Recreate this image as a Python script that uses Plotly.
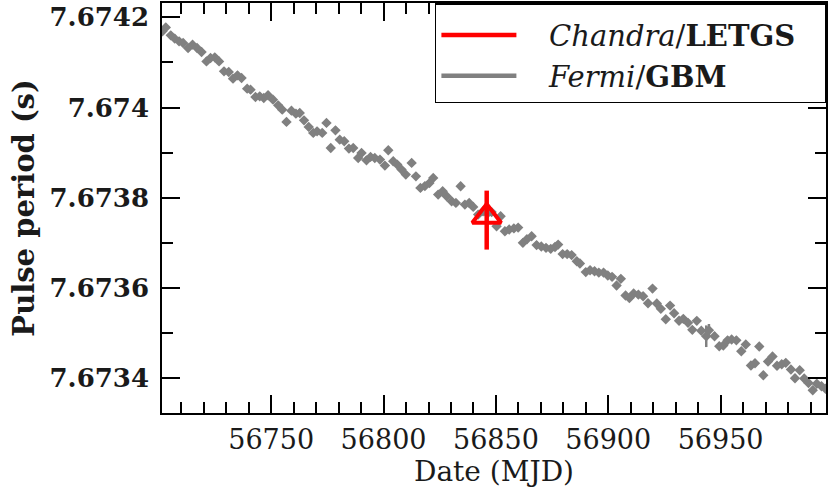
import plotly.graph_objects as go

fermi_mjd = [
    56701.6, 56703.1, 56705.3, 56707.1, 56709.0, 56710.8, 56713.0, 56715.0, 56717.0, 56719.0,
    56721.2, 56723.0, 56724.9, 56726.8, 56729.0, 56731.1, 56733.0, 56735.0, 56736.8, 56739.3,
    56740.8, 56743.0, 56744.9, 56746.7, 56748.6, 56750.8, 56753.1, 56754.9, 56756.8, 56759.0,
    56761.0, 56762.7, 56764.6, 56766.7, 56768.7, 56770.4, 56772.7, 56774.6, 56776.5, 56778.6,
    56780.5, 56782.5, 56784.6, 56786.5, 56788.7, 56790.2, 56792.4, 56794.2, 56796.1, 56798.4,
    56800.6, 56802.1, 56804.3, 56806.1, 56808.0, 56809.9, 56812.5, 56814.4, 56816.4, 56818.4,
    56820.4, 56822.1, 56824.3, 56826.3, 56828.1, 56830.3, 56832.2, 56834.3, 56836.2, 56838.1,
    56839.9, 56842.1, 56844.3, 56846.2, 56848.1, 56850.3, 56852.1, 56854.0, 56855.9, 56858.0,
    56859.9, 56862.0, 56863.8, 56865.9, 56868.1, 56870.2, 56872.3, 56874.4, 56876.3, 56877.7,
    56879.7, 56881.7, 56883.7, 56886.0, 56887.4, 56890.0, 56891.9, 56893.9, 56895.8, 56897.9,
    56899.8, 56901.7, 56903.7, 56905.6, 56907.7, 56909.4, 56911.3, 56913.4, 56915.5, 56917.7,
    56919.7, 56921.6, 56923.4, 56925.6, 56927.5, 56929.3, 56931.5, 56933.4, 56935.5, 56937.4,
    56939.4, 56941.4, 56943.6, 56944.8, 56947.3, 56949.4, 56951.2, 56953.1, 56954.9, 56957.0,
    56959.2, 56961.2, 56963.5, 56965.3, 56967.2, 56969.0, 56971.1, 56973.1, 56975.1, 56977.2,
    56979.0, 56981.3, 56983.1, 56985.2, 56987.2, 56989.1, 56991.0, 56992.8, 56994.9, 56996.7,
]
fermi_period = [
    7.6741690, 7.6741778, 7.6741601, 7.6741528, 7.6741468, 7.6741432, 7.6741321, 7.6741395, 7.6741321, 7.6741233,
    7.6741024, 7.6741100, 7.6741113, 7.6741024, 7.6740803, 7.6740789, 7.6740641, 7.6740714, 7.6740656, 7.6740419,
    7.6740397, 7.6740235, 7.6740248, 7.6740213, 7.6740271, 7.6740175, 7.6740049, 7.6739953, 7.6739681, 7.6739931,
    7.6739865, 7.6739880, 7.6739716, 7.6739570, 7.6739437, 7.6739472, 7.6739437, 7.6739659, 7.6739104, 7.6739494,
    7.6739288, 7.6739251, 7.6739089, 7.6739104, 7.6738882, 7.6738993, 7.6738829, 7.6738905, 7.6738882, 7.6738845,
    7.6738712, 7.6739051, 7.6738807, 7.6738734, 7.6738623, 7.6738512, 7.6738772, 7.6738474, 7.6738217, 7.6738257,
    7.6738324, 7.6738439, 7.6738069, 7.6738142, 7.6738031, 7.6737920, 7.6737885, 7.6738253, 7.6737847, 7.6737885,
    7.6737796, 7.6737625, 7.6737698, 7.6737647, 7.6737681, 7.6737366, 7.6737588, 7.6737255, 7.6737293, 7.6737319,
    7.6737337, 7.6736998, 7.6737078, 7.6737144, 7.6736949, 7.6736916, 7.6736887, 7.6736865, 7.6736905, 7.6736960,
    7.6736749, 7.6736749, 7.6736727, 7.6736590, 7.6736539, 7.6736350, 7.6736390, 7.6736368, 7.6736339, 7.6736339,
    7.6736273, 7.6736244, 7.6736051, 7.6736200, 7.6735829, 7.6735774, 7.6735874, 7.6735851, 7.6735814, 7.6735659,
    7.6735984, 7.6735652, 7.6735534, 7.6735304, 7.6735607, 7.6735437, 7.6735271, 7.6735313, 7.6735224, 7.6735069,
    7.6735268, 7.6735049, 7.6734927, 7.6735058, 7.6734927, 7.6734705, 7.6734721, 7.6734836, 7.6734854, 7.6734836,
    7.6734594, 7.6734743, 7.6734277, 7.6734328, 7.6734698, 7.6734060, 7.6734366, 7.6734477, 7.6734273, 7.6734306,
    7.6734337, 7.6734188, 7.6733996, 7.6734171, 7.6733989, 7.6733889, 7.6733727, 7.6733874, 7.6733816, 7.6733763,
]
# typical 1-sigma error (s); a couple of points have larger bars
fermi_err = [8e-6] * len(fermi_mjd)
fermi_err[122] = 24e-6
fermi_err[123] = 14e-6

# Chandra/LETGS measurement
chandra_mjd = [56845.9]
chandra_period = [7.6737581]
chandra_err_plus = [57.6e-6]
chandra_err_minus = [73.2e-6]

y_tickvals = [7.6734, 7.6736, 7.6738, 7.6740, 7.6742]
y_ticktext = ["7.6734", "7.6736", "7.6738", "7.674", "7.6742"]

GRAY = "#808080"
RED = "#ff0000"
SERIF = "DejaVu Serif"
INK = "#1a1a1a"
NB = "\u00a0"  # non-breaking space, used to pad the legend box

fig = go.Figure()

fig.add_trace(
    go.Scatter(
        x=fermi_mjd,
        y=fermi_period,
        mode="markers",
        marker=dict(symbol="diamond", size=8, color=GRAY),
        error_y=dict(type="data", array=fermi_err, color=GRAY, thickness=2.5, width=0),
        error_x=dict(type="constant", value=1.0, color=GRAY, thickness=2.5, width=0),
        showlegend=False,
    )
)

fig.add_trace(
    go.Scatter(
        x=chandra_mjd,
        y=chandra_period,
        mode="markers",
        marker=dict(symbol="triangle-up-open", size=25, color=RED, line=dict(width=4, color=RED)),
        error_y=dict(
            type="data", symmetric=False, array=chandra_err_plus, arrayminus=chandra_err_minus,
            color=RED, thickness=4.5, width=0,
        ),
        showlegend=False,
    )
)

# legend-only line entries
fig.add_trace(go.Scatter(x=[None], y=[None], mode="lines", line=dict(color=RED, width=4.5),
                         name=NB * 3 + "<i>Chandra</i>/<b>LETGS</b>" + NB * 2 + "\u2009",
                         legendgroup="a"))
fig.add_trace(go.Scatter(x=[None], y=[None], mode="lines", line=dict(color=GRAY, width=4.5),
                         name=NB * 3 + "<i>Fermi</i>/<b>GBM</b>", legendgroup="b"))

axis_common = dict(
    showline=True,
    linecolor="black",
    linewidth=1.5,
    mirror="ticks",
    ticks="inside",
    ticklen=18,
    tickwidth=1.5,
    tickcolor="black",
    showgrid=False,
    zeroline=False,
    automargin=False,
)

fig.update_xaxes(
    **axis_common,
    range=[56701.4, 56996.9],
    tick0=56750,
    dtick=50,
    tickformat="d",
    minor=dict(dtick=10, ticks="inside", ticklen=11, tickwidth=1.5, tickcolor="black", showgrid=False),
    tickfont=dict(family=SERIF, size=27, color=INK),
    ticklabelstandoff=2,
    title=dict(text="Date (MJD)", font=dict(family=SERIF, size=28, color=INK), standoff=4),
)

fig.update_yaxes(
    **axis_common,
    range=[7.6733224, 7.6742319],
    tickvals=y_tickvals,
    ticktext=y_ticktext,
    minor=dict(dtick=0.0001, tick0=7.6734, ticks="inside", ticklen=11, tickwidth=1.5,
               tickcolor="black", showgrid=False),
    tickfont=dict(family=SERIF, size=26, color=INK, weight="bold"),
    ticklabelstandoff=6,
    title=dict(text="<b>Pulse period (s)</b>", font=dict(family=SERIF, size=29, color=INK), standoff=6),
)

fig.update_layout(
    width=830,
    height=495,
    margin=dict(l=162, r=4, t=3, b=82),
    plot_bgcolor="white",
    paper_bgcolor="white",
    font=dict(family=SERIF, color=INK),
    legend=dict(
        x=0.411, y=1, xanchor="left", yanchor="top",
        bgcolor="white",
        bordercolor="black",
        borderwidth=1.5,
        font=dict(family=SERIF, size=29, color=INK),
        title=dict(text=" ", font=dict(size=4)),
        itemwidth=75,
        tracegroupgap=0,
        traceorder="grouped",
    ),
)

# the page body has a default 8px margin; drop it so the figure sits at the window origin
fig.write_html(
    "out.html",
    config={"displayModeBar": False},
    post_script="document.body.style.margin='0px';",
)
